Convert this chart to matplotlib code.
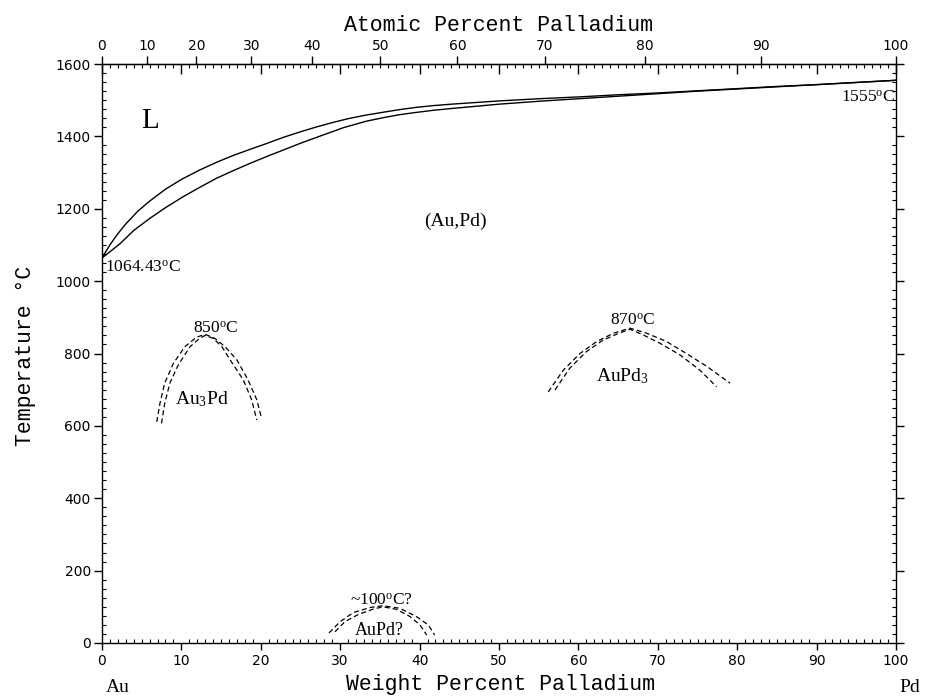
import numpy as np
import matplotlib
matplotlib.use("Agg")
import matplotlib.pyplot as plt
from matplotlib.ticker import MultipleLocator, NullLocator, FixedLocator

plt.rcParams['mathtext.fontset'] = 'custom'
plt.rcParams['mathtext.rm'] = 'Liberation Serif'
plt.rcParams['mathtext.it'] = 'Liberation Serif:italic'
plt.rcParams['font.family'] = ['DejaVu Sans']

# Liquidus and solidus of the Au-Pd system (wt.% Pd, degC)
liq_wt = [0, 1.0, 2.0, 3.0, 4.5, 6.0, 8.0, 10.0, 12.3, 14.5, 16.5, 18.5, 20.7,
          22.8, 24.9, 27.0, 29.0, 31.0, 33.3, 35.5, 37.5, 39.5, 41.7, 44.0,
          46.0, 50.0, 55.0, 60.0, 65.0, 70.0, 75.0, 80.0, 85.0, 90.0, 95.0, 100]
liq_T = [1064, 1100, 1131, 1158, 1193, 1221, 1254, 1281, 1307, 1329, 1347, 1363,
         1380, 1397, 1412, 1426, 1438, 1449, 1459, 1467, 1474, 1480, 1485, 1489,
         1492, 1498, 1504, 1509, 1515, 1520, 1526, 1532, 1538, 1543, 1549, 1555]
sol_wt = [0, 1.0, 2.3, 4.0, 6.0, 8.0, 10.2, 12.3, 14.4, 16.5, 18.6, 20.7, 22.8,
          25.0, 27.5, 30.4, 33.3, 35.5, 37.5, 39.5, 41.7, 44.0, 46.0, 50.0,
          55.0, 60.0, 65.0, 70.0, 75.0, 80.0, 85.0, 90.0, 95.0, 100]
sol_T = [1064, 1081, 1104, 1140, 1173, 1203, 1233, 1259, 1284, 1305, 1325, 1344,
         1362, 1381, 1401, 1424, 1442, 1452, 1460, 1466, 1472, 1477, 1481, 1489,
         1497, 1504, 1511, 1518, 1525, 1531, 1537, 1543, 1549, 1555]

# Ordering domes (dashed): outer and inner boundaries
au3pd_outer_wt = [6.9, 7.3, 7.9, 9.0, 10.45, 11.9, 13.0, 14.2, 15.5, 17.0, 18.4, 19.5, 20.1]
au3pd_outer_T = [611, 662, 718, 773, 819, 845, 853, 842, 819, 782, 727, 672, 621]
au3pd_inner_wt = [7.5, 7.9, 8.55, 9.6, 11.1, 12.3, 13.0, 14.0, 15.1, 16.3, 17.8, 18.85, 19.5]
au3pd_inner_T = [607, 662, 718, 768, 819, 842, 850, 842, 819, 777, 727, 672, 616]

aupd3_outer_wt = [56.2, 58.1, 60.2, 62.3, 64.4, 66.5, 68.6, 71.1, 73.6, 76.2, 79.1]
aupd3_outer_T = [694, 754, 800, 833, 856, 870, 856, 833, 800, 764, 718]
aupd3_inner_wt = [57.05, 58.9, 61.0, 63.1, 65.2, 66.5, 68.2, 70.3, 72.8, 75.3, 77.4]
aupd3_inner_T = [699, 759, 805, 837, 857, 867, 851, 828, 796, 754, 708]

aupd_outer_wt = [28.6, 30.0, 31.65, 33.75, 35.4, 37.5, 39.6, 41.1, 41.9]
aupd_outer_T = [28, 59, 84, 98, 103, 96, 73, 50, 22]
aupd_inner_wt = [29.35, 30.6, 32.3, 34.2, 35.4, 37.1, 38.8, 40.05, 40.9]
aupd_inner_T = [31, 59, 79, 94, 100, 93, 73, 50, 22]

wt_ticks = list(range(0, 101, 10))
at_ticks = list(range(0, 101, 10))
T_ticks = list(range(0, 1601, 200))

M_AU, M_PD = 196.97, 106.42


def wt_to_at(w):
    w = np.asarray(w, dtype=float)
    a = w / M_PD
    b = (100.0 - w) / M_AU
    return 100.0 * a / np.where(a + b == 0, 1e-12, a + b)


def at_to_wt(a):
    a = np.asarray(a, dtype=float)
    p = a * M_PD
    q = (100.0 - a) * M_AU
    return 100.0 * p / np.where(p + q == 0, 1e-12, p + q)


fig = plt.figure(figsize=(9.32, 6.98), dpi=100)
ax = fig.add_axes([0.1094, 0.0788, 0.852, 0.8295])
ax.set_xlim(0, 100)
ax.set_ylim(0, 1600)

for s in ax.spines.values():
    s.set_linewidth(1.0)

solid = dict(color='black', lw=1.0)
ax.plot(liq_wt, liq_T, **solid)
ax.plot(sol_wt, sol_T, **solid)

dashed = dict(color='black', lw=0.9, linestyle=(0, (4, 2.5)))
for xs, ys in [(au3pd_outer_wt, au3pd_outer_T), (au3pd_inner_wt, au3pd_inner_T),
               (aupd3_outer_wt, aupd3_outer_T), (aupd3_inner_wt, aupd3_inner_T),
               (aupd_outer_wt, aupd_outer_T), (aupd_inner_wt, aupd_inner_T)]:
    ax.plot(xs, ys, **dashed)

# Bottom axis: weight percent
ax.xaxis.set_major_locator(FixedLocator(wt_ticks))
ax.xaxis.set_minor_locator(MultipleLocator(1))
ax.tick_params(axis='x', which='major', direction='out', length=5, width=1,
               bottom=True, top=False, labelsize=10, pad=3)
ax.tick_params(axis='x', which='minor', direction='in', length=3, width=0.8,
               bottom=True, top=False)

# Left / right axis: temperature
ax.yaxis.set_major_locator(FixedLocator(T_ticks))
ax.yaxis.set_minor_locator(MultipleLocator(25))
ax.tick_params(axis='y', which='major', direction='out', length=6, width=1,
               left=True, right=True, labelleft=True, labelright=False,
               labelsize=10, pad=2)
ax.tick_params(axis='y', which='minor', direction='in', length=3, width=0.8,
               left=True, right=True)

# Top axis: inward weight-percent ticks without labels
top_wt = ax.secondary_xaxis('top')
top_wt.xaxis.set_major_locator(FixedLocator(wt_ticks))
top_wt.xaxis.set_minor_locator(MultipleLocator(1))
top_wt.tick_params(axis='x', which='major', direction='in', length=7, width=1,
                   labeltop=False)
top_wt.tick_params(axis='x', which='minor', direction='in', length=3, width=0.8)

# Top axis: atomic percent scale
top_at = ax.secondary_xaxis('top', functions=(wt_to_at, at_to_wt))
top_at.xaxis.set_major_locator(FixedLocator(at_ticks))
top_at.xaxis.set_minor_locator(NullLocator())
top_at.tick_params(axis='x', which='major', direction='out', length=6, width=1,
                   labelsize=10, pad=2)

mono = dict(family='Liberation Mono', fontsize=15.5)
fig.text(0.5365, 0.0115, 'Weight Percent Palladium', ha='center', va='baseline', **mono)
fig.text(0.5354, 0.9556, 'Atomic Percent Palladium', ha='center', va='baseline', **mono)
fig.text(0.027, 1 - 356 / 698, 'Temperature °C', rotation=90, ha='center', va='center', **mono)

serif = dict(family='Liberation Serif')
fig.text(118 / 932, 1 - 692 / 698, 'Au', ha='center', va='baseline', fontsize=14, **serif)
fig.text(910 / 932, 1 - 692 / 698, 'Pd', ha='center', va='baseline', fontsize=14, **serif)

ax.text(6.1, 1423, 'L', ha='center', va='baseline', fontsize=21, **serif)
ax.text(44.5, 1152, '(Au,Pd)', ha='center', va='baseline', fontsize=14, **serif)
ax.text(12.6, 660, r'Au$_3$Pd', ha='center', va='baseline', fontsize=14, **serif)
ax.text(65.6, 722, r'AuPd$_3$', ha='center', va='baseline', fontsize=14, **serif)
ax.text(34.9, 22, 'AuPd?', ha='center', va='baseline', fontsize=13, **serif)

ax.text(0.4, 1026, r'1064.43$^{\rm o}$C', ha='left', va='baseline', fontsize=12.5, **serif)
ax.text(99.9, 1496, r'1555$^{\rm o}$C', ha='right', va='baseline', fontsize=12.5, **serif)
ax.text(14.3, 857, r'850$^{\rm o}$C', ha='center', va='baseline', fontsize=12.5, **serif)
ax.text(66.8, 879, r'870$^{\rm o}$C', ha='center', va='baseline', fontsize=12.5, **serif)
ax.text(35.2, 105, r'~100$^{\rm o}$C?', ha='center', va='baseline', fontsize=12.5, **serif)

fig.savefig('out.png', dpi=100)
